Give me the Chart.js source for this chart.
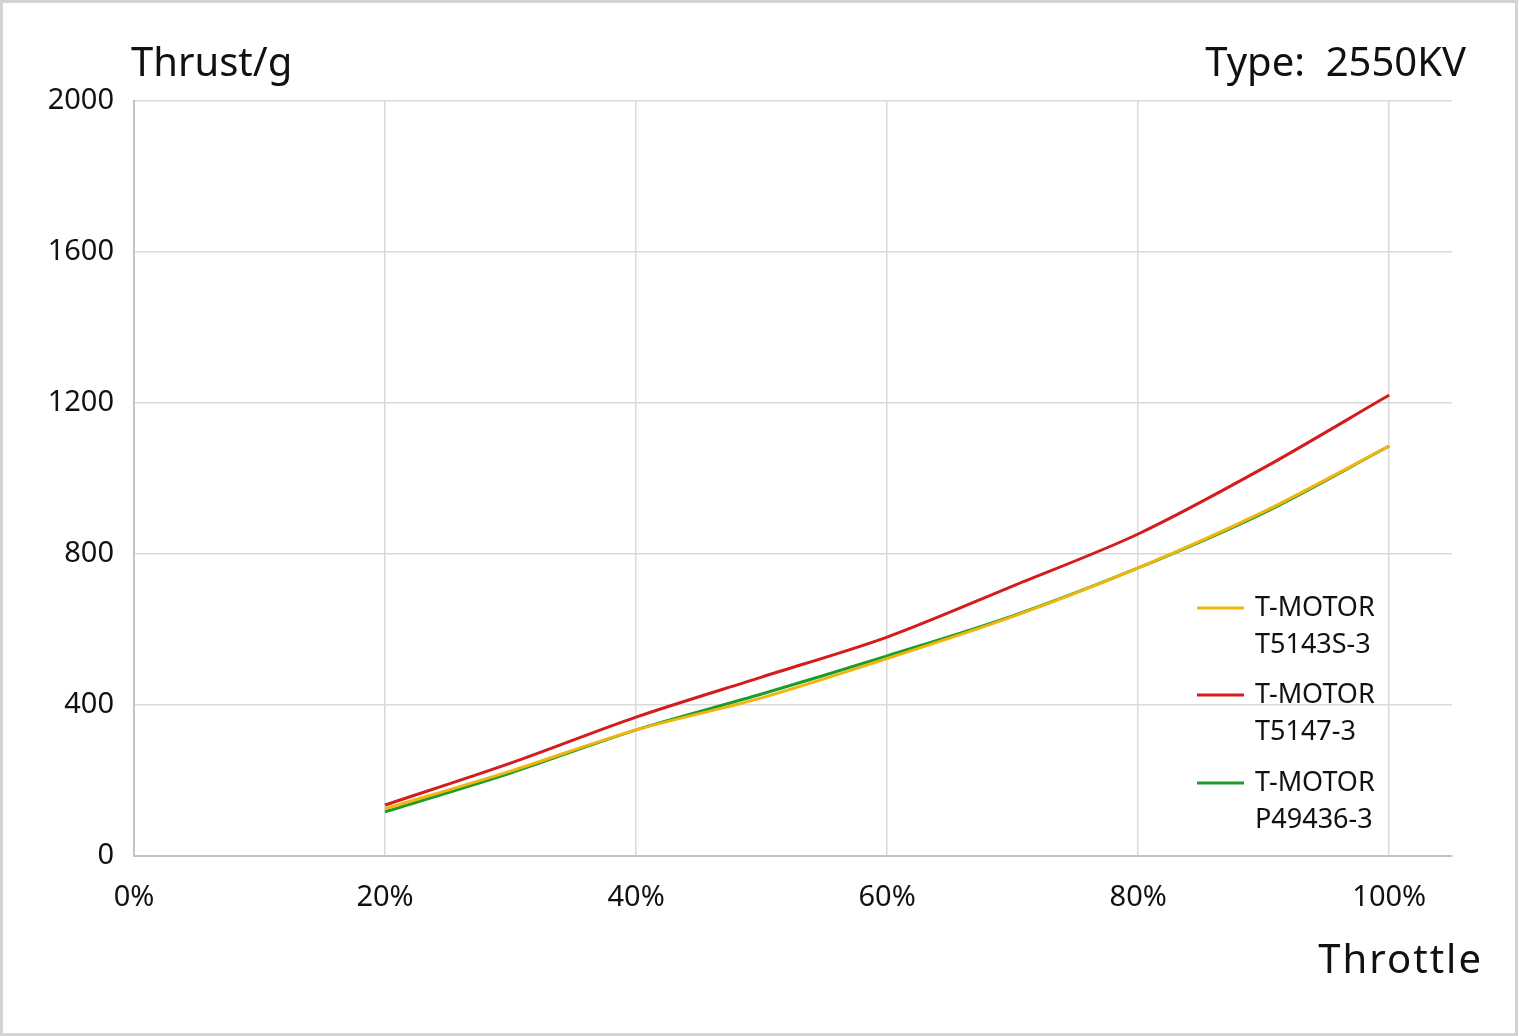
<!DOCTYPE html>
<html>
<head>
<meta charset="utf-8">
<script src="https://cdn.jsdelivr.net/npm/chart.js@4/dist/chart.umd.min.js"></script>
<style>
  html, body { margin: 0; padding: 0; background: #fff; }
  #wrap { width: 1518px; height: 1036px; box-sizing: border-box; border: 3px solid #d4d4d4; background: #fff; }
  canvas { display: block; }
</style>
</head>
<body>
<div id="wrap"><canvas id="chart" width="1512" height="1030"></canvas></div>
<script>
// throttle positions (%)
const throttle = [20, 30, 40, 50, 60, 70, 80, 90, 100];
// thrust in grams
const t5143s = [125, 225, 334, 419, 523, 634, 763, 912, 1086];
const t5147 = [135, 246, 368, 474, 580, 715, 853, 1028, 1221];
const p49436 = [117, 220, 334, 429, 530, 636, 763, 909, 1086];

const seriesNames = [['T-MOTOR', 'T5143S-3'], ['T-MOTOR', 'T5147-3'], ['T-MOTOR', 'P49436-3']];
const seriesColors = ['#f2b50c', '#d41c1c', '#1c9c2c'];
const yTicks = [0, 400, 800, 1200, 1600, 2000];

const FONT = '"Noto Sans", "Open Sans", sans-serif';

const toPoints = arr => arr.map((v, i) => ({ x: throttle[i], y: v }));

// titles and the two-line legend are drawn on top of the chart
const extras = {
    id: 'extras',
    afterDraw(chart) {
        const ctx = chart.ctx;
        const area = chart.chartArea;
        ctx.save();
        ctx.fillStyle = '#111';
        ctx.textBaseline = 'alphabetic';
        ctx.font = '40px ' + FONT;
        ctx.textAlign = 'left';
        ctx.fillText('Thrust/g', area.left - 3, 73);
        ctx.textAlign = 'right';
        ctx.fillText('Type:  2550KV', 1463, 73);
        ctx.letterSpacing = '2px';
        ctx.fillText('Throttle', 1480, 970);
        ctx.letterSpacing = '0px';

        // legend
        const ys = [605, 692, 780];
        ctx.font = '27px ' + FONT;
        ctx.textAlign = 'left';
        ctx.textBaseline = 'middle';
        seriesNames.forEach((lines, i) => {
            const y = ys[i];
            ctx.strokeStyle = seriesColors[i];
            ctx.lineWidth = 3;
            ctx.beginPath();
            ctx.moveTo(1194, y);
            ctx.lineTo(1241, y);
            ctx.stroke();
            ctx.fillStyle = '#111';
            ctx.fillText(lines[0], 1252, y);
            ctx.fillText(lines[1], 1252, y + 37);
        });
        ctx.restore();
    }
};

const ctx = document.getElementById('chart').getContext('2d');
new Chart(ctx, {
    type: 'line',
    data: {
        datasets: [
            { label: seriesNames[0].join(' '), data: toPoints(t5143s), borderColor: seriesColors[0] },
            { label: seriesNames[1].join(' '), data: toPoints(t5147), borderColor: seriesColors[1] },
            { label: seriesNames[2].join(' '), data: toPoints(p49436), borderColor: seriesColors[2] },
        ]
    },
    options: {
        responsive: false,
        animation: false,
        layout: { padding: { left: 0, top: 98, right: 63, bottom: 0 } },
        elements: {
            line: { borderWidth: 3, tension: 0.3 },
            point: { radius: 0 }
        },
        plugins: { legend: { display: false }, tooltip: { enabled: false } },
        scales: {
            x: {
                type: 'linear', min: 0, max: 105,
                afterFit: s => { s.height = 1030 - 853; },
                grid: { color: '#d9d9d9', lineWidth: 1.5, drawTicks: false },
                border: { color: '#c4c4c4', width: 2 },
                ticks: {
                    stepSize: 20, includeBounds: false, padding: 24,
                    color: '#111', font: { family: FONT, size: 29 },
                    callback: v => v + '%'
                }
            },
            y: {
                min: 0, max: 2000,
                afterFit: s => { s.width = 131; },
                afterBuildTicks: s => { s.ticks = yTicks.map(v => ({ value: v })); },
                grid: { color: '#d9d9d9', lineWidth: 1.5, drawTicks: false },
                border: { color: '#c4c4c4', width: 2 },
                ticks: {
                    padding: 20, color: '#111', font: { family: FONT, size: 29 },
                    callback: v => String(v)
                }
            }
        }
    },
    plugins: [extras]
});
</script>
</body>
</html>
